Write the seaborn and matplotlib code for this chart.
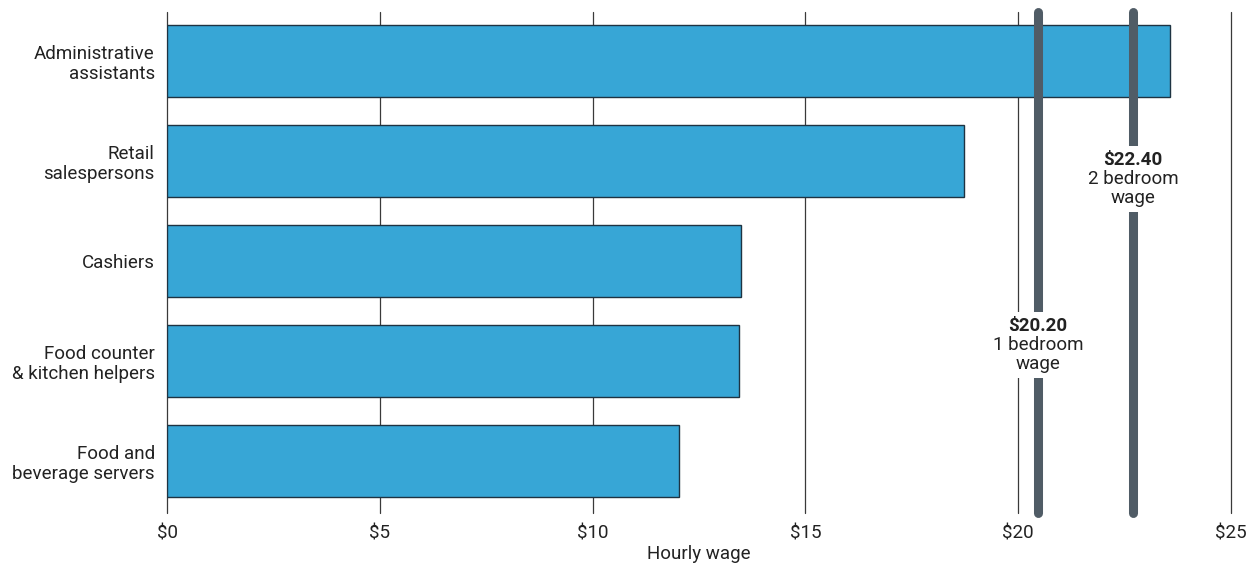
import matplotlib
matplotlib.use("Agg")
import matplotlib.pyplot as plt
import seaborn as sns
from pandas import DataFrame

jobs = [
    "Administrative\nassistants",
    "Retail\nsalespersons",
    "Cashiers",
    "Food counter\n& kitchen helpers",
    "Food and\nbeverage servers",
]
wages = [23.58, 18.73, 13.48, 13.43, 12.02]

# housing wage markers: where the line sits, and what the label says
wage_lines = [20.47, 22.71]
wage_amounts = ["$20.20", "$22.40"]
wage_names = ["1 bedroom\nwage", "2 bedroom\nwage"]
label_rows = [2.65, 0.99]

ticks = [0, 5, 10, 15, 20, 25]
tick_labels = ["$0", "$5", "$10", "$15", "$20", "$25"]

df = DataFrame({"job": jobs, "wage": wages})

sns.set_style("white")
plt.rcParams["font.family"] = ["Roboto", "DejaVu Sans"]
txt = "#222222"
fs = 13.5

fig = plt.figure(figsize=(12.55, 5.68), dpi=100)
ax = fig.add_axes([0.1333, 0.0968, 0.8473, 0.8821])

for t in ticks:
    ax.axvline(t, color="#3a3a3a", lw=0.9, zorder=0, clip_on=False)

sns.barplot(data=df, x="wage", y="job", orient="h", color="#37a6d6",
            saturation=1, width=0.72, edgecolor="#1e3342", linewidth=1.0,
            ax=ax, zorder=2)

for x, amt, name, yy in zip(wage_lines, wage_amounts, wage_names, label_rows):
    ax.axvline(x, color="#505c66", lw=6.5, solid_capstyle="round",
               zorder=3, clip_on=False)
    ax.text(x, yy, amt, ha="center", va="center", fontsize=fs,
            fontweight="bold", color=txt, zorder=4,
            bbox=dict(facecolor="white", edgecolor="none", pad=3.5))
    ax.text(x, yy + 0.1, name, ha="center", va="top", fontsize=fs,
            color=txt, zorder=4, linespacing=1.05,
            bbox=dict(facecolor="white", edgecolor="none", pad=3.5))

ax.set_xlim(0, 25)
ax.set_ylim(4.52, -0.49)
ax.set_xticks(ticks, tick_labels)
ax.set(ylabel="")
ax.set_xlabel("Hourly wage", fontsize=fs, color=txt, labelpad=2)
ax.tick_params(axis="x", length=0, pad=8, labelsize=fs, labelcolor=txt)
ax.tick_params(axis="y", length=0, pad=9, labelsize=fs, labelcolor=txt)
for lbl in ax.get_yticklabels():
    lbl.set_linespacing(1.15)
sns.despine(ax=ax, left=True, bottom=True)

fig.savefig("out.png", dpi=100)
